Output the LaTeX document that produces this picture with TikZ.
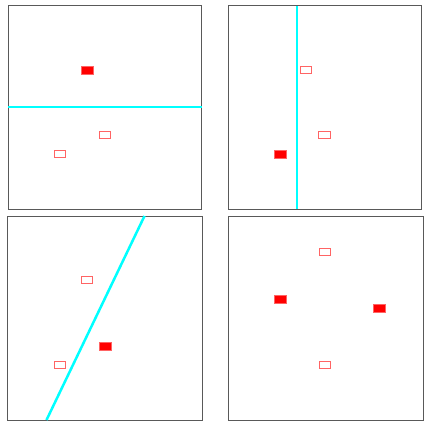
\documentclass[tikz,border=0pt]{standalone}
\definecolor{cutcyan}{RGB}{0,255,255}
\definecolor{ptred}{RGB}{255,0,0}
\definecolor{ptedge}{RGB}{255,100,100}
\begin{document}
\begin{tikzpicture}[x=1pt,y=-1pt,
  frame/.style={draw=black!65,line width=1pt},
  cut/.style={draw=cutcyan,line width=2.5pt},
  solidpt/.style={draw=ptedge,fill=ptred,line width=0.6pt,minimum width=12pt,minimum height=8pt,inner sep=0pt,outer sep=0pt},
  hollowpt/.style={draw=ptedge,fill=white,line width=1.2pt,minimum width=11.5pt,minimum height=7.5pt,inner sep=0pt,outer sep=0pt}]
\useasboundingbox (0,0) rectangle (430,425);
% panel 1
\draw[frame] (8,6) rectangle (201,209);
\draw[cut] (8,107) -- (202,107);
\node[solidpt] (a1) at (87,70) {};
\node[hollowpt] (b1) at (105,135) {};
\node[hollowpt] (c1) at (60,154) {};
% panel 2
\draw[frame] (228,6) rectangle (421,209);
\draw[cut] (297,6) -- (297,209);
\node[hollowpt] (a2) at (306,70) {};
\node[hollowpt] (b2) at (324.5,135) {};
\node[solidpt] (c2) at (280,154) {};
% panel 3
\draw[frame] (7.5,216) rectangle (202,420);
\draw[cut] (144.5,216) -- (46.5,420);
\node[hollowpt] (a3) at (87,280) {};
\node[solidpt] (b3) at (105,346) {};
\node[hollowpt] (c3) at (60,365) {};
% panel 4
\draw[frame] (228,216) rectangle (423,420);
\node[hollowpt] (a4) at (325,252) {};
\node[solidpt] (b4) at (280,299) {};
\node[solidpt] (c4) at (379,308) {};
\node[hollowpt] (d4) at (325,365) {};
\end{tikzpicture}
\end{document}
